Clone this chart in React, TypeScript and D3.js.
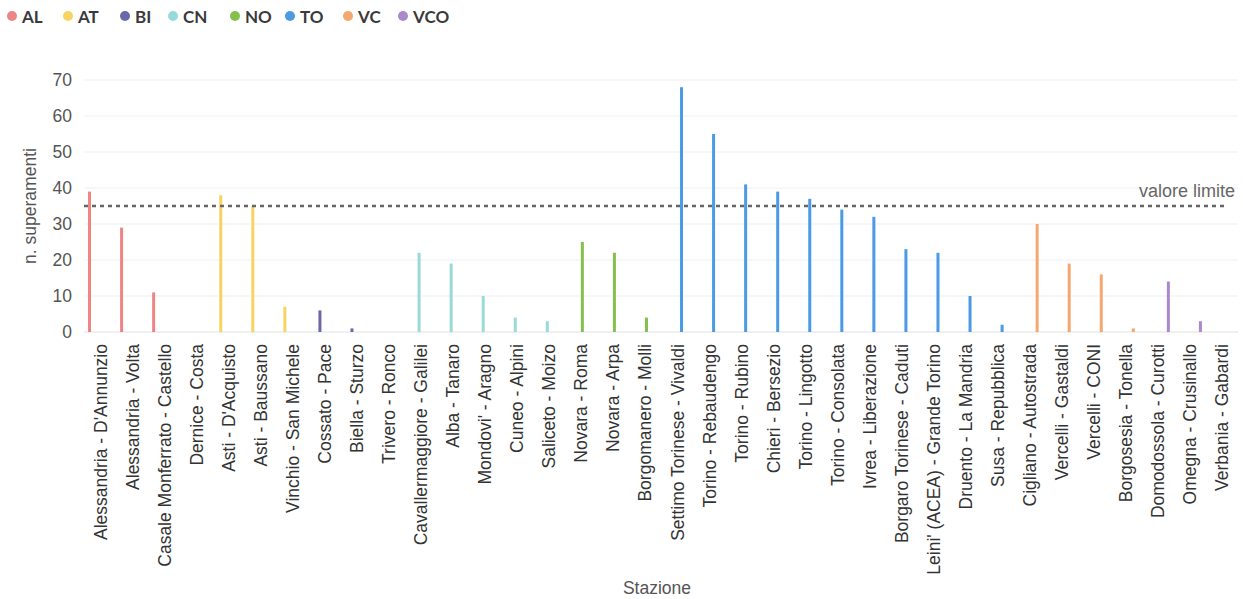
import React from "react";
import * as d3 from "d3";

const provinces = ["AL", "AT", "BI", "CN", "NO", "TO", "VC", "VCO"];
const provinceColors = ["#ee8585", "#f7d462", "#6a68a8", "#97dad9", "#86c04c", "#4a9be3", "#f4a870", "#ab88cb"];

const stations = [
  "Alessandria - D'Annunzio", "Alessandria - Volta", "Casale Monferrato - Castello", "Dernice - Costa",
  "Asti - D'Acquisto", "Asti - Baussano", "Vinchio - San Michele",
  "Cossato - Pace", "Biella - Sturzo", "Trivero - Ronco",
  "Cavallermaggiore - Galilei", "Alba - Tanaro", "Mondovi' - Aragno", "Cuneo - Alpini", "Saliceto - Moizo",
  "Novara - Roma", "Novara - Arpa", "Borgomanero - Molli",
  "Settimo Torinese - Vivaldi", "Torino - Rebaudengo", "Torino - Rubino", "Chieri - Bersezio", "Torino - Lingotto",
  "Torino - Consolata", "Ivrea - Liberazione", "Borgaro Torinese - Caduti", "Leini' (ACEA) - Grande Torino",
  "Druento - La Mandria", "Susa - Repubblica",
  "Cigliano - Autostrada", "Vercelli - Gastaldi", "Vercelli - CONI", "Borgosesia - Tonella",
  "Domodossola - Curotti", "Omegna - Crusinallo", "Verbania - Gabardi",
];
const stationProvince = [
  "AL", "AL", "AL", "AL",
  "AT", "AT", "AT",
  "BI", "BI", "BI",
  "CN", "CN", "CN", "CN", "CN",
  "NO", "NO", "NO",
  "TO", "TO", "TO", "TO", "TO", "TO", "TO", "TO", "TO", "TO", "TO",
  "VC", "VC", "VC", "VC",
  "VCO", "VCO", "VCO",
];
const exceedances = [
  39, 29, 11, 0,
  38, 35, 7,
  6, 1, 0,
  22, 19, 10, 4, 3,
  25, 22, 4,
  68, 55, 41, 39, 37, 34, 32, 23, 22, 10, 2,
  30, 19, 16, 1,
  14, 3, 0,
];
const yTicks = [0, 10, 20, 30, 40, 50, 60, 70];
const limitValue = 35;
const limitLabel = "valore limite";

export default function App() {
  const W = 1243, H = 599;
  const left = 84, right = 1238, top = 80, bottom = 332;
  const x = d3.scaleBand<string>().domain(stations).range([left, right]).paddingInner(0).paddingOuter(0);
  const inner = d3.scaleBand<string>().domain(provinces).range([-12, 12]).padding(0);
  const y = d3.scaleLinear().domain([0, 70]).range([bottom, top]);
  const color = d3.scaleOrdinal<string, string>().domain(provinces).range(provinceColors);
  const font = "'Liberation Sans', Arial, sans-serif";
  const legendX = [12, 68, 125, 173, 235, 290, 348, 403];

  return (
    <svg width={W} height={H} style={{ position: "absolute", left: 0, top: 0, background: "#fff" }}>
      {/* legend */}
      {provinces.map((p, i) => (
        <g key={p} transform={`translate(${legendX[i]},17)`}>
          <circle cx={0} cy={-1} r={5} fill={color(p)} />
          <text x={10} y={6} fontFamily="Lato, 'Open Sans', sans-serif" fontWeight={700} fontSize={17} fill="#3a3a3a">{p}</text>
        </g>
      ))}
      {/* grid */}
      {yTicks.map((t) => (
        <g key={t}>
          <line x1={left} x2={right} y1={y(t)} y2={y(t)} stroke={t === 0 ? "#e0e0e0" : "#efefef"} strokeWidth={1} />
          <text x={72} y={y(t)} dy="0.35em" textAnchor="end" fontFamily={font} fontSize={17.5} fill="#555">{t}</text>
        </g>
      ))}
      <text transform={`translate(36,${(top + bottom) / 2}) rotate(-90)`} textAnchor="middle" fontFamily={font} fontSize={17.5} fill="#555">n. superamenti</text>
      {/* bars */}
      {stations.map((s, i) => {
        const cx = (x(s) as number) + x.bandwidth() / 2 + (inner(stationProvince[i]) as number);
        const v = exceedances[i];
        if (v <= 0) return null;
        return (
          <rect key={s} x={cx} y={y(v)} width={inner.bandwidth()} height={y(0) - y(v)} fill={color(stationProvince[i])} />
        );
      })}
      {/* limit line */}
      <line x1={left} x2={1228} y1={y(limitValue)} y2={y(limitValue)} stroke="#666" strokeWidth={2.5} strokeDasharray="4,4" />
      <text x={1235} y={y(limitValue) - 9} textAnchor="end" fontFamily={font} fontSize={18} fill="#666">{limitLabel}</text>
      {/* x labels */}
      {stations.map((s) => {
        const cx = (x(s) as number) + x.bandwidth() / 2;
        return (
          <text key={s} transform={`translate(${cx + 6.5},344) rotate(-90)`} textAnchor="end" fontFamily={font} fontSize={17.5} fill="#333">{s}</text>
        );
      })}
      <text x={657} y={594} textAnchor="middle" fontFamily={font} fontSize={17.5} fill="#555">Stazione</text>
    </svg>
  );
}
